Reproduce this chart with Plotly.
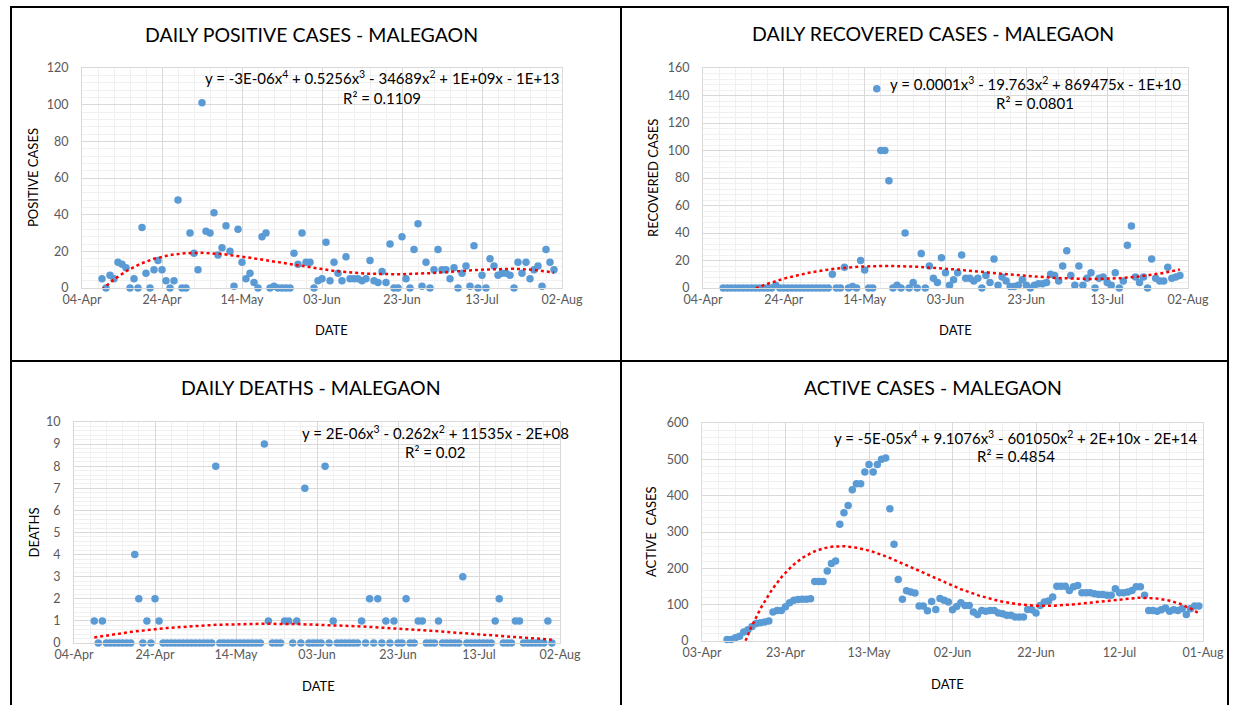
import numpy as np
import pandas as pd
import plotly.graph_objects as go

W, H = 1233, 705
FONT = "Lato"

# daily series, one value per day starting 09-Apr-2020
first_day = "2020-04-09"

positive_cases = [
    5, 0, 7, 5, 14, 13, 11, 0, 5, 0,
    33, 8, 0, 10, 15, 10, 4, 0, 4, 48,
    0, 0, 30, 19, 10, 101, 31, 30, 41, 18,
    22, 34, 20, 1, 32, 14, 5, 8, 3, 0,
    28, 30, 0, 1, 0, 0, 0, 0, 19, 13,
    30, 14, 14, 0, 4, 5, 25, 4, 14, 8,
    4, 17, 5, 5, 5, 4, 5, 15, 4, 3,
    9, 3, 24, 0, 0, 28, 5, 0, 21, 35,
    1, 14, 0, 10, 21, 10, 10, 5, 11, 0,
    8, 12, 1, 23, 0, 7, 0, 16, 12, 7,
    8, 8, 7, 0, 14, 8, 14, 5, 10, 12,
    1, 21, 14, 10,
]

recovered_cases = [
    0, 0, 0, 0, 0, 0, 0, 0, 0, 0, 0, 0, 0,
    2,
    0, 0, 0, 0, 0, 0, 0, 0, 0, 0, 0, 0, 0,
    10, 0, 0, 15, 0, 1, 0, 20, 13, 0,
    0, 145, 100, 100, 78, 0, 2, 0, 40, 0,
    4, 0, 25, 0, 16, 7, 4, 22, 11, 2,
    6, 11, 24, 7, 7, 5, 7, 0, 9, 4,
    21, 2, 8, 5, 1, 1, 2, 6, 2, 0,
    2, 3, 3, 4, 10, 9, 5, 16, 27, 9,
    2, 16, 2, 7, 11, 0, 7, 8, 4, 2,
    11, 0, 5, 31, 45, 8, 4, 8, 0, 21,
    7, 5, 5, 15, 7, 8, 9,
]

deaths = [
    1, 0, 1, 0, 0, 0, 0, 0, 0, 0,
    4, 2, 0, 1, 0, 2, 1, 0, 0, 0,
    0, 0, 0, 0, 0, 0, 0, 0, 0, 0,
    8, 0, 0, 0, 0, 0, 0, 0, 0, 0,
    0, 0, 9, 1, 0, 0, 0, 1, 1, 0,
    1, 0, 7, 0, 0, 0, 0, 8, 0, 1,
    0, 0, 0, 0, 0, 0, 1, 0, 2, 0,
    2, 0, 1, 0, 1, 0, 0, 2, 0, 0,
    1, 1, 0, 0, 0, 1, 0, 0, 0, 0,
    0, 3, 0, 0, 0, 0, 0, 0, 0, 1,
    2, 0, 0, 0, 1, 1, 0, 0, 0, 0,
    0, 0, 1, 0,
]

active_cases = [
    4, 4, 9, 13, 25, 31, 40, 48, 50, 52,
    55, 80, 84, 84, 94, 105, 112, 114, 115, 115,
    116, 164, 164, 164, 193, 213, 220, 321, 353, 373,
    416, 433, 433, 465, 486, 465, 486, 500, 504, 364,
    266, 169, 115, 138, 135, 132, 96, 96, 83, 109,
    87, 117, 112, 107,
    86, 95, 105, 98, 98, 80, 73, 84, 82, 84,
    84, 77, 75, 71, 71, 66, 66, 66, 87, 86,
    77, 98, 107, 110, 121, 151, 151, 151, 139, 149,
    153, 133, 133, 133, 130, 128, 128, 126, 126, 144,
    133, 133, 135, 139, 149, 149, 126, 84, 84, 82,
    86, 91, 82, 86, 84, 89, 73, 89, 96, 96,
]

titles = ["DAILY POSITIVE CASES - MALEGAON", "DAILY RECOVERED CASES - MALEGAON",
          "DAILY DEATHS - MALEGAON", "ACTIVE CASES - MALEGAON"]
y_titles = ["POSITIVE CASES", "RECOVERED CASES", "DEATHS", "ACTIVE  CASES"]
equations = [
    "y = -3E-06x<sup>4</sup> + 0.5256x<sup>3</sup> - 34689x<sup>2</sup> + 1E+09x - 1E+13",
    "y = 0.0001x<sup>3</sup> - 19.763x<sup>2</sup> + 869475x - 1E+10",
    "y = 2E-06x<sup>3</sup> - 0.262x<sup>2</sup> + 11535x - 2E+08",
    "y = -5E-05x<sup>4</sup> + 9.1076x<sup>3</sup> - 601050x<sup>2</sup> + 2E+10x - 2E+14",
]
r_squared = ["R² = 0.1109", "R² = 0.0801", "R² = 0.02", "R² = 0.4854"]
trend_degree = [4, 3, 3, 4]
axis_start = ["2020-04-04", "2020-04-04", "2020-04-04", "2020-04-03"]
axis_end = ["2020-08-02", "2020-08-02", "2020-08-02", "2020-08-01"]
y_max = [120, 160, 10, 600]
y_step = [20, 20, 1, 100]

series = [positive_cases, recovered_cases, deaths, active_cases]
dates = pd.date_range(first_day, periods=len(positive_cases), freq="D")

# pixel boxes of each plot area: left, right, top, bottom
boxes = [(82, 562, 68, 288), (703, 1188, 68, 288),
         (74, 560, 422, 643), (702, 1203, 423, 641)]
title_pos = [(311, 35), (933, 34), (311, 387), (933, 387)]
ytitle_x = [33, 653, 33, 651]
date_pos = [(331, 330), (955, 330), (318, 686), (947, 684)]
eq_pos = [(382, 77, 98), (1035, 83, 103), (435, 432, 452), (1016, 437, 456)]

DAY = 86400000


def px(x):
    return x / W


def py(y):
    return 1 - y / H


def trend(values, deg):
    t = np.arange(len(values))
    coef = np.polyfit(t, values, deg)
    tt = np.linspace(0, len(values) - 1, 600)
    xs = pd.Timestamp(first_day) + pd.to_timedelta(tt, unit="D")
    return xs, np.polyval(coef, tt)


def label(text, x, y, size, angle=0):
    return dict(text=text, x=px(x), y=py(y), xref="paper", yref="paper",
                xanchor="center", yanchor="middle", showarrow=False,
                textangle=angle, font=dict(family=FONT, size=size, color="#000000"))


fig = go.Figure()
annotations = []
layout_axes = {}

for i, values in enumerate(series):
    n = i + 1
    xa = "x" if n == 1 else f"x{n}"
    ya = "y" if n == 1 else f"y{n}"

    fig.add_trace(go.Scatter(
        x=dates, y=values, mode="markers", xaxis=xa, yaxis=ya,
        marker=dict(size=7.5, color="#5b9bd5"), showlegend=False,
        cliponaxis=False,
    ))
    tx, ty = trend(values, trend_degree[i])
    fig.add_trace(go.Scatter(
        x=tx, y=ty, mode="lines", xaxis=xa, yaxis=ya,
        line=dict(color="#ff0000", width=2.5, dash="dot"), showlegend=False,
    ))

    l, r, t, b = boxes[i]
    layout_axes["xaxis" if n == 1 else f"xaxis{n}"] = dict(
        domain=[px(l), px(r)], anchor=ya, type="date", automargin=False,
        range=[axis_start[i], axis_end[i]],
        tick0=axis_start[i], dtick=20 * DAY, tickformat="%d-%b",
        showgrid=True, gridcolor="#d9d9d9", gridwidth=1,
        minor=dict(tick0=axis_start[i], dtick=4 * DAY, showgrid=True,
                   gridcolor="#f0f0f0", gridwidth=1),
        showline=True, linecolor="#d9d9d9", linewidth=1, mirror=True,
        ticks="", tickfont=dict(family=FONT, size=12.5, color="#595959"),
        zeroline=False, fixedrange=True,
    )
    layout_axes["yaxis" if n == 1 else f"yaxis{n}"] = dict(
        domain=[py(b), py(t)], anchor=xa, automargin=False,
        range=[0, y_max[i]], dtick=y_step[i], tick0=0,
        showgrid=True, gridcolor="#d9d9d9", gridwidth=1,
        minor=dict(dtick=y_step[i] / 5, showgrid=True,
                   gridcolor="#f0f0f0", gridwidth=1),
        showline=True, linecolor="#d9d9d9", linewidth=1, mirror=True,
        ticks="", ticklabelstandoff=10,
        tickfont=dict(family=FONT, size=12.5, color="#595959"),
        zeroline=False, fixedrange=True,
    )

    annotations.append(label(titles[i], *title_pos[i], 19.5))
    annotations.append(label(y_titles[i], ytitle_x[i], (t + b) / 2, 13, -90))
    annotations.append(label("DATE", *date_pos[i], 13))
    ex, ey1, ey2 = eq_pos[i]
    annotations.append(label(equations[i], ex, ey1, 15))
    annotations.append(label(r_squared[i], ex, ey2, 15))

# table borders around the four charts
border = dict(color="#000000", width=2)
shapes = [
    dict(type="line", xref="paper", yref="paper", x0=px(11), x1=px(11), y0=py(7), y1=0, line=border),
    dict(type="line", xref="paper", yref="paper", x0=px(1228), x1=px(1228), y0=py(7), y1=0, line=border),
    dict(type="line", xref="paper", yref="paper", x0=px(10), x1=px(1229), y0=py(7), y1=py(7), line=border),
    dict(type="line", xref="paper", yref="paper", x0=px(621), x1=px(621), y0=py(7), y1=0, line=border),
    dict(type="line", xref="paper", yref="paper", x0=px(11), x1=px(1228), y0=py(361), y1=py(361), line=border),
]

fig.update_layout(
    width=W, height=H,
    margin=dict(l=0, r=0, t=0, b=0, autoexpand=False),
    paper_bgcolor="white", plot_bgcolor="white",
    annotations=annotations, shapes=shapes,
    showlegend=False,
    **layout_axes,
)

# drop the default page margin so the figure fills the window exactly
fig.write_html("out.html", config={"displayModeBar": False},
               post_script="document.body.style.margin = '0px';")
